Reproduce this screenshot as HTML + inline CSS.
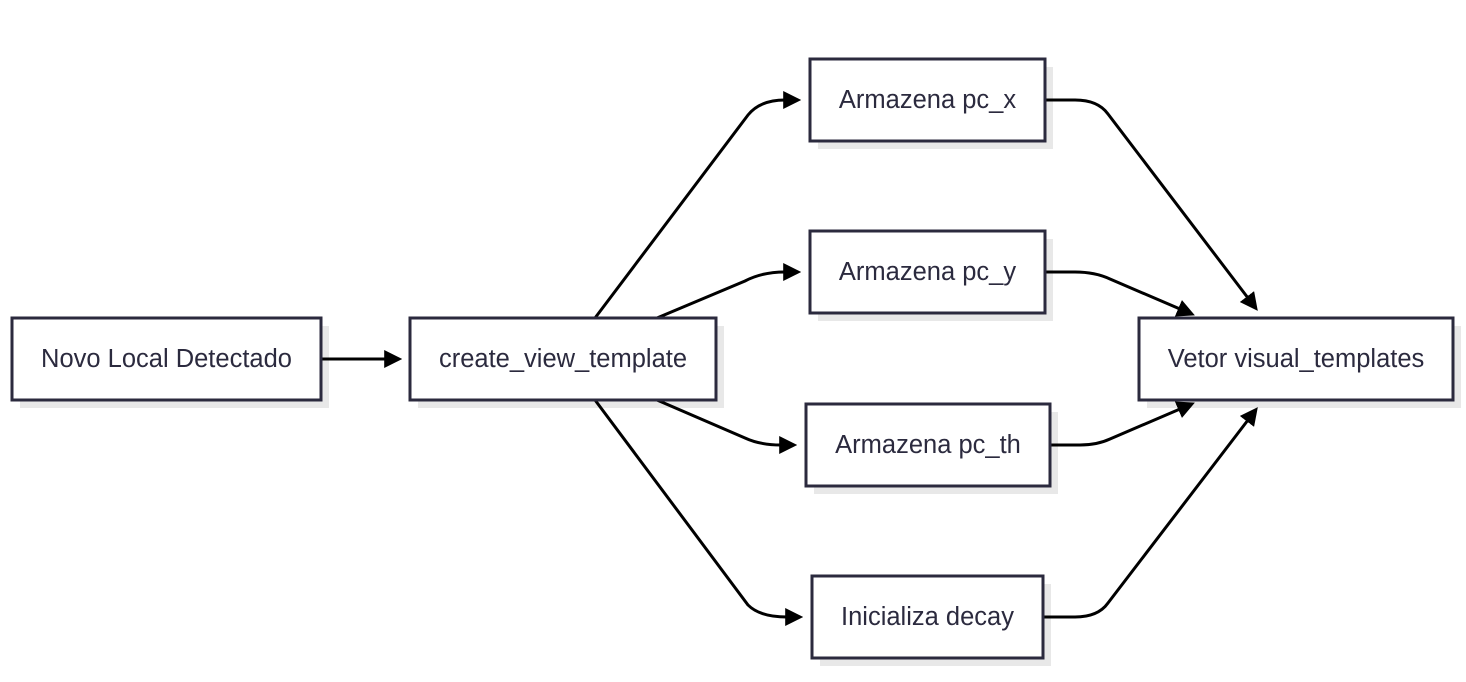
<!DOCTYPE html>
<html><head><meta charset="utf-8"><style>
html,body{margin:0;padding:0;background:#fff;}
svg{display:block;}
text{font-family:"Liberation Sans",sans-serif;font-size:25.5px;fill:#2b2a3e;}
</style></head><body>
<svg width="1466" height="682" viewBox="0 0 1466 682" xmlns="http://www.w3.org/2000/svg">
<defs>
<marker id="a" viewBox="0 0 10 10" refX="1" refY="5" markerWidth="6" markerHeight="6" orient="auto" markerUnits="strokeWidth">
<path d="M0,0 L10,5 L0,10 z" fill="#000"/>
</marker>
</defs>
<g fill="#e8e8e8">
<rect x="20" y="326" width="309" height="82"/>
<rect x="418" y="326" width="306" height="82"/>
<rect x="818" y="67" width="235" height="82"/>
<rect x="818" y="239" width="235" height="82"/>
<rect x="814" y="412" width="244" height="82"/>
<rect x="820" y="584" width="231" height="82"/>
<rect x="1147" y="326" width="314" height="82"/>
</g>
<g fill="none" stroke="#000" stroke-width="3" marker-end="url(#a)">
<path d="M321,359 L386,359"/>
<path d="M595,318 L748,115 Q760,100 785,100"/>
<path d="M657,318 L745,281 Q762,272 785,272"/>
<path d="M657,400 L745,438 Q760,445 781,445"/>
<path d="M595,400 L748,605 Q760,617 787,617"/>
<path d="M1045,100 L1075,100 Q1098,100 1108,114 L1248,298"/>
<path d="M1045,272 L1075,272 Q1095,272 1110,279 L1180,309"/>
<path d="M1050,445 L1080,445 Q1097,445 1110,439 L1180,409"/>
<path d="M1043,617 L1075,617 Q1098,617 1108,603 L1248,420"/>
</g>
<g fill="#fff" stroke="#2b2a3e" stroke-width="3">
<rect x="12" y="318" width="309" height="82"/>
<rect x="410" y="318" width="306" height="82"/>
<rect x="810" y="59" width="235" height="82"/>
<rect x="810" y="231" width="235" height="82"/>
<rect x="806" y="404" width="244" height="82"/>
<rect x="812" y="576" width="231" height="82"/>
<rect x="1139" y="318" width="314" height="82"/>
</g>
<g text-anchor="middle">
<text x="166.5" y="367">Novo Local Detectado</text>
<text x="563" y="367">create_view_template</text>
<text x="927.5" y="108">Armazena pc_x</text>
<text x="927.5" y="280">Armazena pc_y</text>
<text x="928" y="453">Armazena pc_th</text>
<text x="927.5" y="625">Inicializa decay</text>
<text x="1296" y="367">Vetor visual_templates</text>
</g>
</svg>
</body></html>
